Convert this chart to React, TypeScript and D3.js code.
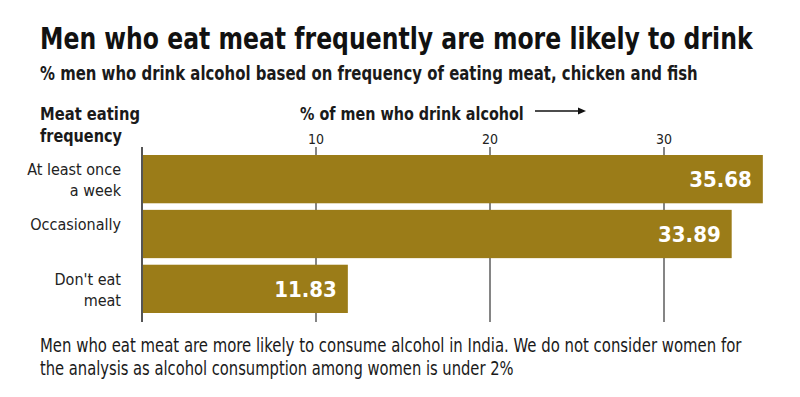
import * as d3 from "d3";
import { useLayoutEffect, useRef, useState } from "react";

const categories = ["At least once a week", "Occasionally", "Don't eat meat"];
const categoryLines = [["At least once", "a week"], ["Occasionally"], ["Don't eat", "meat"]];
const values = [35.68, 33.89, 11.83];
const ticks = [10, 20, 30];

const W = 800;
const H = 397;
const FONT = "'DejaVu Sans Condensed', 'Liberation Sans Narrow', Roboto, sans-serif";
const BAR = "#9b7c18";

// draws a text and squeezes it horizontally to a given width
function FitText({ x, y, width, children, ...rest }: any) {
  const ref = useRef<SVGTextElement>(null);
  const [k, setK] = useState(1);
  useLayoutEffect(() => {
    if (!ref.current) return;
    const len = ref.current.getComputedTextLength();
    if (len > 0) setK(width / len);
  }, [width, children]);
  return (
    <text ref={ref} transform={`translate(${x},${y}) scale(${k},1)`} {...rest}>
      {children}
    </text>
  );
}

export default function App() {
  const x = d3.scaleLinear().domain([0, 40]).range([142, 838]);
  const y = d3.scaleBand<string>().domain(categories).range([155, 313]).paddingInner(0.12);
  const gridTop = 147;
  const gridBottom = 322;

  return (
    <svg
      width={W}
      height={H}
      style={{ position: "absolute", left: 0, top: 0, background: "#fff" }}
      fontFamily={FONT}
    >
      <rect width={W} height={H} fill="#fff" />
      <FitText x={40} y={49} width={713} fontSize={31} fontWeight="bold" fill="#111">
        Men who eat meat frequently are more likely to drink
      </FitText>
      <FitText x={40} y={80} width={658} fontSize={19} fontWeight="bold" fill="#1a1a1a">
        % men who drink alcohol based on frequency of eating meat, chicken and fish
      </FitText>
      <FitText x={40} y={120} width={100} fontSize={18} fontWeight="bold" fill="#1a1a1a">
        Meat eating
      </FitText>
      <FitText x={40} y={142} width={82} fontSize={18} fontWeight="bold" fill="#1a1a1a">
        frequency
      </FitText>
      <FitText x={300} y={120} width={224} fontSize={18} fontWeight="bold" fill="#1a1a1a">
        % of men who drink alcohol
      </FitText>
      <line x1={535} x2={582} y1={111} y2={111} stroke="#111" strokeWidth={1.5} />
      <path d="M586,111 L578,107.5 L578,114.5 Z" fill="#111" />

      {ticks.map((t) => (
        <g key={t}>
          <line x1={x(t)} x2={x(t)} y1={gridTop} y2={gridBottom} stroke="#858585" strokeWidth={2} />
          <text x={x(t)} y={144} fontSize={14} textAnchor="middle" fill="#222">
            {t}
          </text>
        </g>
      ))}

      {categories.map((c, i) => (
        <rect key={c} x={x(0)} y={y(c)} width={x(values[i]) - x(0)} height={y.bandwidth()} fill={BAR} />
      ))}
      <line x1={x(0)} x2={x(0)} y1={gridTop} y2={gridBottom} stroke="#555" strokeWidth={2} />

      {categories.map((c, i) => {
        const lines = categoryLines[i];
        const top = (y(c) as number) + 20;
        return (
          <text key={c} textAnchor="end" fontSize={16} fill="#222">
            {lines.map((l, j) => (
              <tspan key={l} x={121} y={top + j * 21}>
                {l}
              </tspan>
            ))}
          </text>
        );
      })}

      {categories.map((c, i) => (
        <text
          key={c}
          x={x(values[i]) - 11}
          y={(y(c) as number) + y.bandwidth() / 2 + 8}
          textAnchor="end"
          fontSize={22}
          fontWeight="bold"
          fill="#fff"
        >
          {values[i].toFixed(2)}
        </text>
      ))}

      <FitText x={40} y={352} width={702} fontSize={19} fill="#1a1a1a">
        Men who eat meat are more likely to consume alcohol in India. We do not consider women for
      </FitText>
      <FitText x={40} y={375} width={474} fontSize={19} fill="#1a1a1a">
        the analysis as alcohol consumption among women is under 2%
      </FitText>
    </svg>
  );
}
